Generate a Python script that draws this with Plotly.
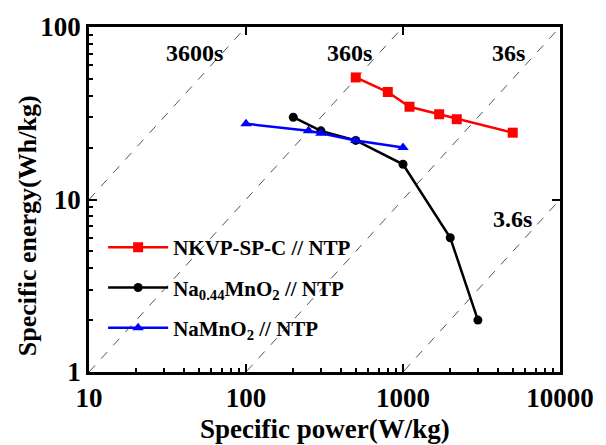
import plotly.graph_objects as go

# Data
nkvp_power = [500, 800, 1100, 1700, 2200, 5000]
nkvp_energy = [51, 42, 34.5, 31.2, 29.2, 24.4]

na044_power = [200, 300, 500, 1000, 2000, 3000]
na044_energy = [30, 25, 22, 16, 6, 2]

namno2_power = [100, 250, 300, 500, 1000]
namno2_energy = [27.5, 25, 24.2, 22, 20]

# Ragone reference lines (discharge time in seconds)
times_s = [3600, 360, 36, 3.6]
time_labels = ["3600s", "360s", "36s", "3.6s"]
# label positions in log10 units (log axes)
label_pos = [(1.674, 1.85), (2.657, 1.85), (3.672, 1.85), (3.70, 0.885)]
line_power = [10, 10000]

FONT = "Liberation Serif"

fig = go.Figure()

for t in times_s:
    fig.add_trace(go.Scatter(
        x=line_power, y=[p * t / 3600 for p in line_power],
        mode="lines", line=dict(color="#555555", width=1, dash="dash"),
        showlegend=False, hoverinfo="skip"))

fig.add_trace(go.Scatter(
    x=nkvp_power, y=nkvp_energy, mode="lines+markers",
    name="NKVP-SP-C // NTP", legendgroup="a",
    line=dict(color="#ff0000", width=2.5),
    marker=dict(symbol="square", size=10, color="#ff0000")))
fig.add_trace(go.Scatter(
    x=na044_power, y=na044_energy, mode="lines+markers",
    name="Na<sub>0.44</sub>MnO<sub>2</sub> // NTP", legendgroup="b",
    line=dict(color="#000000", width=2.5),
    marker=dict(symbol="circle", size=9, color="#000000")))
fig.add_trace(go.Scatter(
    x=namno2_power, y=namno2_energy, mode="lines+markers",
    name="NaMnO<sub>2</sub> // NTP", legendgroup="c",
    line=dict(color="#0000ff", width=2.5),
    marker=dict(symbol="triangle-up", size=10, color="#0000ff")))

# invisible trace for mirrored top/right axes
fig.add_trace(go.Scatter(x=[10], y=[1], xaxis="x2", yaxis="y2",
                         mode="markers", marker=dict(opacity=0),
                         showlegend=False, hoverinfo="skip"))

for lab, (px, py) in zip(time_labels, label_pos):
    fig.add_annotation(x=px, y=py, xref="x", yref="y", text="<b>%s</b>" % lab,
                       showarrow=False, font=dict(family=FONT, size=24, color="black"))

# axis titles as annotations for precise placement
fig.add_annotation(x=0.5, y=-0.165, xref="paper", yref="paper",
                   text="<b>Specific power(W/kg)</b>", showarrow=False,
                   xanchor="center", yanchor="middle",
                   font=dict(family=FONT, size=27, color="black"))
fig.add_annotation(x=-0.130, y=0.425, xref="paper", yref="paper",
                   text="<b>Specific energy(Wh/kg)</b>", showarrow=False, textangle=-90,
                   xanchor="center", yanchor="middle",
                   font=dict(family=FONT, size=26, color="black"))

axis_common = dict(type="log", showgrid=False, zeroline=False,
                   showline=True, linecolor="black", linewidth=2.5,
                   ticks="inside", ticklen=8, tickwidth=2, tickcolor="black")

fig.update_layout(
    width=606, height=445,
    margin=dict(l=89, r=40, t=22, b=73),
    paper_bgcolor="white", plot_bgcolor="white",
    font=dict(family=FONT, color="black"),
    xaxis=dict(**axis_common, range=[1, 4],
               tickvals=[10, 100, 1000, 10000],
               ticktext=["<b>10</b>", "<b>100</b>", "<b>1000</b>", "<b>10000</b>"],
               tickfont=dict(family=FONT, size=27),
               minor=dict(ticks="inside", ticklen=4, tickwidth=1.5, tickcolor="black",
                          dtick="D1", showgrid=False)),
    yaxis=dict(**axis_common, range=[0, 2],
               tickvals=[1, 10, 100],
               ticktext=["<b>1</b>", "<b>10</b>", "<b>100</b>"],
               tickfont=dict(family=FONT, size=27),
               minor=dict(ticks="inside", ticklen=4, tickwidth=1.5, tickcolor="black",
                          dtick="D1", showgrid=False)),
    xaxis2=dict(**axis_common, range=[1, 4], overlaying="x", side="top",
                tickvals=[10, 100, 1000, 10000], showticklabels=False),
    yaxis2=dict(**axis_common, range=[0, 2], overlaying="y", side="right",
                tickvals=[1, 10, 100], showticklabels=False),
    legend=dict(x=0.03, y=0.42, xanchor="left", yanchor="top",
                bgcolor="rgba(0,0,0,0)", tracegroupgap=10, itemwidth=60,
                font=dict(family=FONT, size=21, color="black")),
)

# bold legend text
for tr in fig.data:
    if tr.name:
        tr.name = "<b>%s</b>" % tr.name

fig.write_html("out.html")
